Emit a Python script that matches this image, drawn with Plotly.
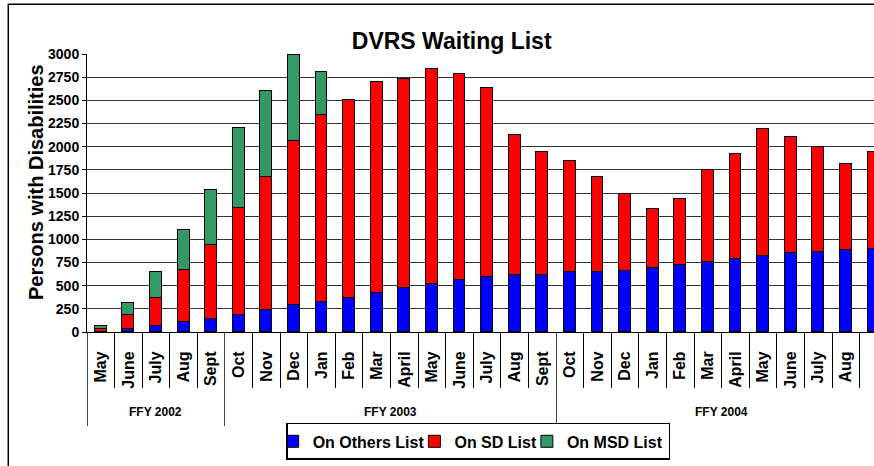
import plotly.graph_objects as go

# ---- data ----
months = ["May", "June", "July", "Aug", "Sept",
          "Oct", "Nov", "Dec", "Jan", "Feb", "Mar", "April", "May", "June", "July", "Aug", "Sept",
          "Oct", "Nov", "Dec", "Jan", "Feb", "Mar", "April", "May", "June", "July", "Aug", "Sept"]
fiscal_years = ["FFY 2002", "FFY 2003", "FFY 2004"]
year_sizes = [5, 12, 12]

on_others = [3, 30, 60, 105, 140,
             185, 235, 295, 325, 370, 425, 470, 515, 560, 595, 610, 610,
             645, 645, 660, 690, 725, 755, 785, 815, 850, 865, 880, 895]
on_sd = [25, 155, 310, 565, 800,
         1155, 1440, 1770, 2015, 2130, 2275, 2260, 2325, 2220, 2040, 1520, 1330,
         1200, 1030, 825, 635, 715, 995, 1135, 1380, 1250, 1135, 935, 1045]
on_msd = [32, 130, 275, 430, 590,
          860, 930, 925, 470, None, None, None, None, None, None, None, None,
          None, None, None, None, None, None, None, None, None, None, None, None]

series_names = ["On Others List", "On SD List", "On MSD List"]
series_colors = ["#0000FF", "#FF0000", "#339966"]

FONT = "Liberation Sans, Arial, sans-serif"

n = len(months)
idx = list(range(n))

fig = go.Figure()
for name, vals, col in zip(series_names, [on_others, on_sd, on_msd], series_colors):
    fig.add_trace(go.Bar(
        x=idx, y=vals, name=name, width=0.43,
        marker=dict(color=col, line=dict(color="black", width=1)),
    ))

# invisible carriers so the divider axes get drawn
for ax in ["x2", "x3"]:
    fig.add_trace(go.Scatter(x=idx, y=on_others, xaxis=ax, yaxis="y", mode="markers",
                             marker=dict(opacity=0), showlegend=False, hoverinfo="skip"))

# group boundaries / centers derived from the group sizes
bounds = [-0.5]
centers = []
start = 0
for s in year_sizes:
    centers.append(start + (s - 1) / 2)
    start += s
    bounds.append(start - 0.5)

xr = [-0.5, 28.02]

annotations = []
for fy, c in zip(fiscal_years, centers):
    annotations.append(dict(
        x=c, y=-0.288, xref="x", yref="paper", text=fy, showarrow=False,
        font=dict(family=FONT, size=12, color="black", weight="bold"),
        xanchor="center", yanchor="middle"))
annotations.append(dict(
    x=-0.064, y=0.538, xref="paper", yref="paper", text="Persons with Disabilities",
    textangle=-90, showarrow=False,
    font=dict(family=FONT, size=20, color="black", weight="bold"),
    xanchor="center", yanchor="middle"))

fig.update_layout(
    width=874, height=466,
    margin=dict(l=87, r=0, t=54, b=134, autoexpand=False),
    paper_bgcolor="white", plot_bgcolor="white",
    barmode="stack",
    title=dict(text="DVRS Waiting List", x=0.4634, xref="paper", xanchor="center",
               y=0.9114, yanchor="middle", yref="container",
               font=dict(family=FONT, size=23, color="black", weight="bold")),
    xaxis=dict(range=xr, tickmode="array", tickvals=idx, ticktext=months,
               tickangle=-90, ticks="outside", ticklen=12, tickcolor="rgba(0,0,0,0)",
               tickfont=dict(family=FONT, size=16, color="black", weight="bold"),
               showgrid=False, zeroline=False, showline=True, linecolor="black", linewidth=1,
               automargin=False),
    xaxis2=dict(range=xr, overlaying="x", anchor="y", side="bottom",
                tickmode="array", tickvals=[i - 0.5 for i in idx],
                ticks="outside", ticklen=55, tickcolor="black", tickwidth=1,
                showticklabels=False, showgrid=False, zeroline=False, showline=False,
                automargin=False),
    xaxis3=dict(range=xr, overlaying="x", anchor="y", side="bottom",
                tickmode="array", tickvals=bounds,
                ticks="outside", ticklen=93, tickcolor="#444", tickwidth=1,
                showticklabels=False, showgrid=False, zeroline=False, showline=False,
                automargin=False),
    yaxis=dict(range=[0, 3000], dtick=250, tick0=0, ticks="outside", ticklen=4,
               tickcolor="black", showline=True, linecolor="black", linewidth=1,
               showgrid=True, gridcolor="#333", gridwidth=1, zeroline=False,
               tickfont=dict(family=FONT, size=14, color="black", weight="bold"),
               automargin=False),
    legend=dict(orientation="h", x=0.497, xanchor="center", y=-0.327, yanchor="top",
                bordercolor="black", borderwidth=1.5, bgcolor="white",
                font=dict(family=FONT, size=16, color="black", weight="bold"),
                traceorder="normal", itemwidth=30, indentation=-15),
    annotations=annotations,
    shapes=[dict(type="rect", xref="paper", yref="paper",
                 x0=(8.3 - 87) / 787, x1=1.05, y0=-0.6, y1=(332 - 4.3) / 278,
                 line=dict(color="black", width=1.5), fillcolor="rgba(0,0,0,0)", layer="above")],
    showlegend=True,
    bargap=0,
)

fig.write_html("out.html", config={"displayModeBar": False},
               post_script="document.body.style.margin='0';")
